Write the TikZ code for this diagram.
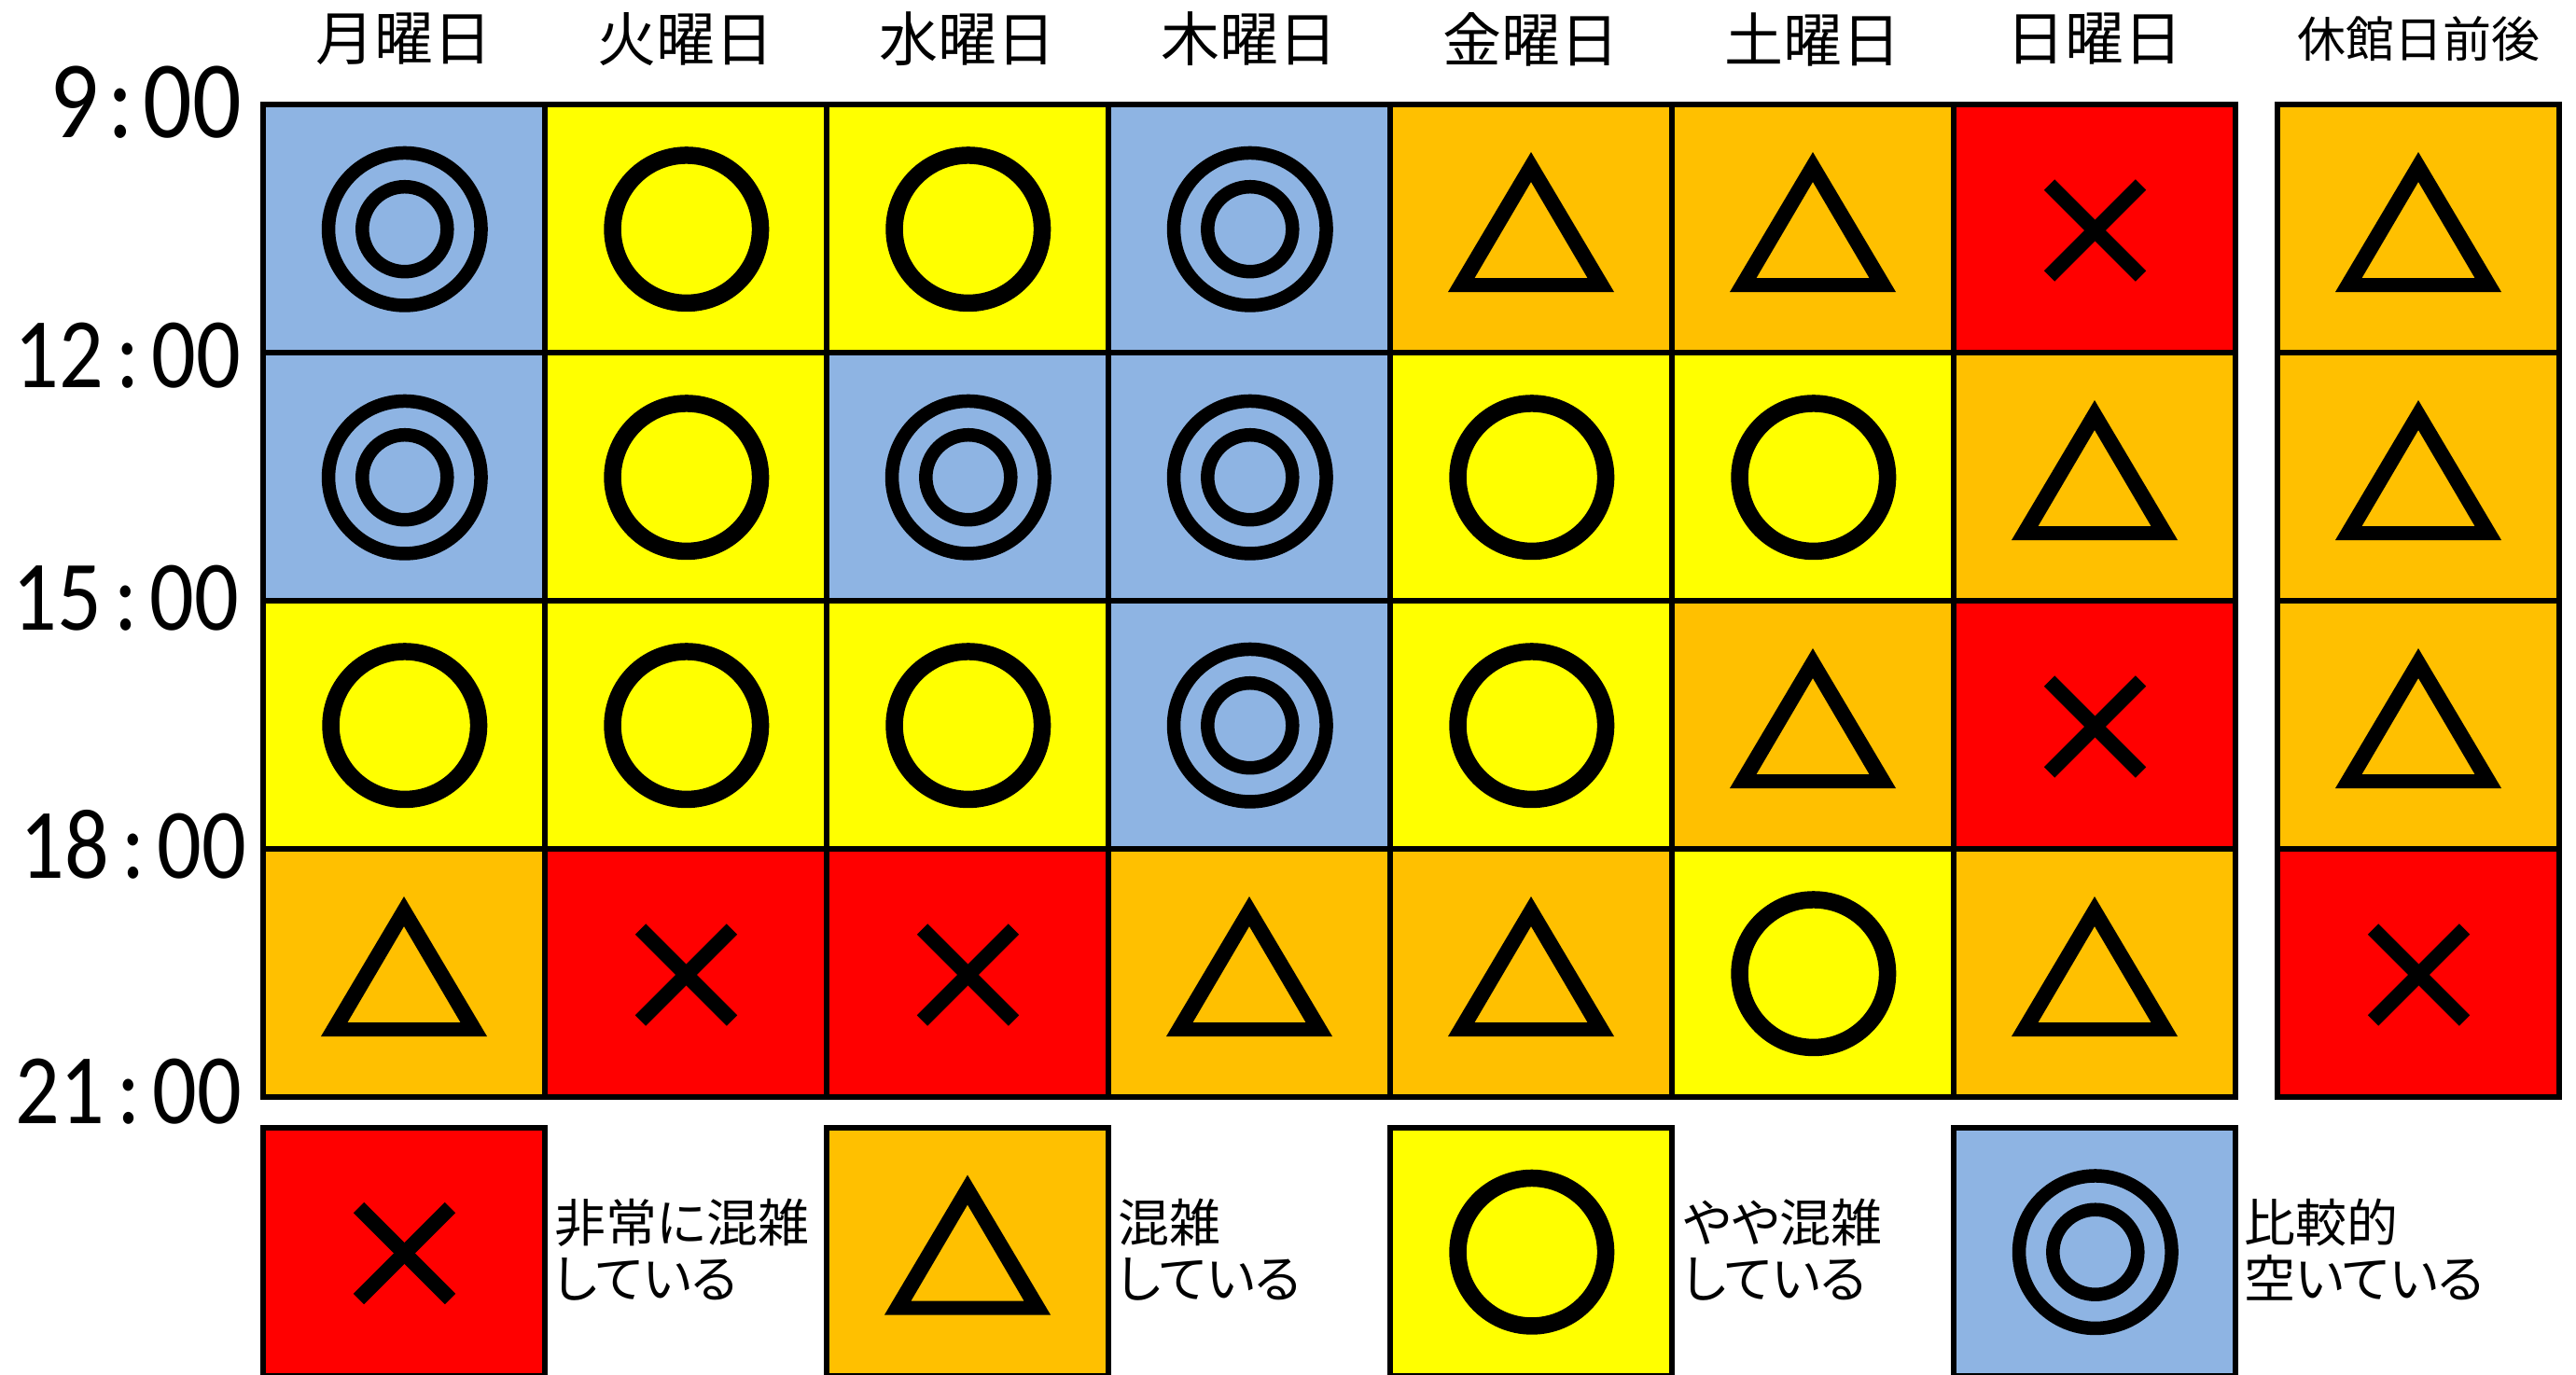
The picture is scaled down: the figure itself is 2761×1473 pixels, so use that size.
\documentclass[tikz,border=0pt]{standalone}
\usepackage{fontspec}
\newfontfamily\jpf{Noto Sans CJK JP}
\newfontfamily\jpp[RawFeature=+palt]{Noto Sans CJK JP}
\newfontfamily\timef[FakeStretch=0.88]{Carlito}
\definecolor{colD}{HTML}{8EB4E3}
\definecolor{colO}{HTML}{FFFF00}
\definecolor{colT}{HTML}{FFC000}
\definecolor{colX}{HTML}{FF0000}
\newcommand{\mksymD}{%
  \draw[line width=14.5pt] (0.8,0.7) circle (81.75pt);
  \draw[line width=14.5pt] (0.8,0.7) circle (45.5pt);}
\newcommand{\mksymO}{%
  \draw[line width=18.5pt] (0.8,0.7) circle (79.25pt);}
\newcommand{\mksymT}{%
  \fill[even odd rule] (0,-82) -- (89,68) -- (-89,68) -- cycle
     (0,-50) -- (60.5,53) -- (-60.5,53) -- cycle;}
\newcommand{\mksymX}{%
  \draw[line width=16pt] (-48.5,-47) -- (49.5,51);
  \draw[line width=16pt] (-48.5,51) -- (49.5,-47);}
\newcommand{\timelabel}[5]{\node[timetext,font=\timef\fontsize{#4}{#4}\selectfont] (#1) at (#2,#3) {#5};}
\tikzset{
  x=1pt,y=-1pt,
  cellbox/.style={rectangle,draw=black,line width=6pt,inner sep=0pt,outer sep=0pt,
    minimum width=302pt,minimum height=266pt},
  sym/.pic={\csname mksym#1\endcsname},
  timetext/.style={anchor=base east,inner sep=0pt},
  dayhead/.style={inner sep=0pt,anchor=center,font=\jpf\fontsize{63}{63}\selectfont},
  sidehead/.style={inner sep=0pt,anchor=center,font=\jpf\fontsize{52}{52}\selectfont},
  legendtext/.style={inner sep=0pt,anchor=west,align=left,font=\jpp\fontsize{55}{60}\selectfont},
}
\begin{document}
\begin{tikzpicture}
\useasboundingbox (0,0) rectangle (2761,1473);
% grid cells
\foreach \n/\x/\ka/\kb/\kc/\kd in {1/433/D/D/O/T,2/735/O/O/O/X,3/1037/O/D/O/X,4/1339/D/D/D/T,
    5/1641/T/O/O/T,6/1943/T/O/T/O,7/2245/X/T/X/T,8/2592/T/T/T/X}{
  \foreach \r/\y/\k in {1/245/\ka,2/511/\kb,3/777/\kc,4/1043/\kd}{
    \node[cellbox,fill=col\k] (cell\n\r) at (\x,\y) {};
    \pic at (cell\n\r.center) {sym=\k};
  }
}
% legend
\foreach \n/\x/\k in {1/433/X,2/1037/T,3/1641/O,4/2245/D}{
  \node[cellbox,fill=col\k] (leg\n) at (\x,1341.5) {};
  \pic at (leg\n.center) {sym=\k};
}
% day headers
\node[dayhead] (mon) at (433,42) {月曜日};
\node[dayhead] (tue) at (735,42) {火曜日};
\node[dayhead] (wed) at (1037,42) {水曜日};
\node[dayhead] (thu) at (1339,42) {木曜日};
\node[dayhead] (fri) at (1641,42) {金曜日};
\node[dayhead] (sat) at (1943,42) {土曜日};
\node[dayhead] (sun) at (2245,42) {日曜日};
\node[sidehead] (side) at (2592,42) {休館日前後};
% time labels
\timelabel{t9}{259}{147}{118}{9\hspace{10pt}:\hspace{10pt}00}
\timelabel{t12}{258}{415}{107}{12\hspace{13pt}:\hspace{13pt}00}
\timelabel{t15}{256}{675}{107}{15\hspace{13pt}:\hspace{13pt}00}
\timelabel{t18}{264}{941}{107}{18\hspace{13pt}:\hspace{13pt}00}
\timelabel{t21}{259}{1204}{107}{21\hspace{13pt}:\hspace{13pt}00}
% legend texts
\node[legendtext] (l1) at (594,1340) {非常に混雑\\している};
\node[legendtext] (l2) at (1198,1340) {混雑\\している};
\node[legendtext] (l3) at (1804,1340) {やや混雑\\している};
\node[legendtext] (l4) at (2405,1340) {比較的\\空いている};
\end{tikzpicture}
\end{document}
